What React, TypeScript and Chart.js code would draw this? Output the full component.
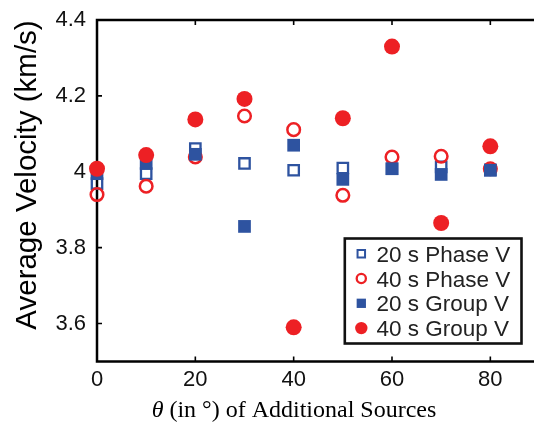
import { useEffect, useRef } from 'react';
import { Chart, registerables } from 'chart.js';

Chart.register(...registerables);

// ---- data ----
const angles = [0, 10, 20, 30, 40, 50, 60, 70, 80];
const phase20 = [3.969, 3.995, 4.061, 4.022, 4.004, 4.01, 4.008, 4.013, 4.005];
const phase40 = [3.94, 3.962, 4.039, 4.147, 4.111, 3.938, 4.039, 4.041, 4.008];
const group20 = [3.995, 4.022, 4.046, 3.856, 4.07, 3.98, 4.008, 3.993, 4.004];
const group40 = [4.008, 4.044, 4.138, 4.192, 3.59, 4.141, 4.33, 3.865, 4.067];
const seriesLabels = ['20 s Phase V', '40 s Phase V', '20 s Group V', '40 s Group V'];
const xTickValues = [0, 20, 40, 60, 80];
const yTickValues = [3.6, 3.8, 4, 4.2, 4.4];
const yTitle = 'Average Velocity (km/s)';
const xTitleSymbol = 'θ';
const xTitleRest = ' (in °) of Additional Sources';

// ---- styles ----
const BLUE = '#2E53A0';
const RED = '#ED2024';
const SANS = '"Liberation Sans", Arial, Helvetica, sans-serif';
const SERIF = '"Liberation Serif", "Times New Roman", serif';

const legendMarkers = [
  { shape: 'square', filled: false, color: BLUE, size: 7.5 },
  { shape: 'circle', filled: false, color: RED, size: 4.6 },
  { shape: 'square', filled: true, color: BLUE, size: 9.3 },
  { shape: 'circle', filled: true, color: RED, size: 6.2 },
];

const decor = {
  id: 'decor',
  beforeDatasetsDraw(chart: any) {
    const { ctx, chartArea: ca, scales } = chart;
    const x = scales.x;
    const y = scales.y;
    ctx.save();
    ctx.strokeStyle = '#000';
    ctx.lineWidth = 2.5;
    ctx.strokeRect(ca.left, ca.top, ca.right - ca.left, ca.bottom - ca.top);
    ctx.lineWidth = 1.6;
    ctx.beginPath();
    xTickValues.forEach((v) => {
      const px = x.getPixelForValue(v);
      ctx.moveTo(px, ca.bottom);
      ctx.lineTo(px, ca.bottom - 5);
      ctx.moveTo(px, ca.top);
      ctx.lineTo(px, ca.top + 5);
    });
    yTickValues.forEach((v) => {
      const py = y.getPixelForValue(v);
      ctx.moveTo(ca.left, py);
      ctx.lineTo(ca.left + 5, py);
      ctx.moveTo(ca.right, py);
      ctx.lineTo(ca.right - 5, py);
    });
    ctx.stroke();
    ctx.restore();
  },
  afterDraw(chart: any) {
    const { ctx, chartArea: ca } = chart;
    ctx.save();
    // y title
    ctx.fillStyle = '#000';
    ctx.translate(28, 175);
    ctx.rotate(-Math.PI / 2);
    ctx.font = `29.5px ${SANS}`;
    ctx.textAlign = 'center';
    ctx.textBaseline = 'middle';
    ctx.fillText(yTitle, 0, 0);
    ctx.restore();

    // x title
    ctx.save();
    ctx.fillStyle = '#000';
    ctx.textBaseline = 'alphabetic';
    ctx.textAlign = 'left';
    ctx.font = `italic 24px ${SERIF}`;
    const w1 = ctx.measureText(xTitleSymbol).width;
    ctx.font = `24px ${SERIF}`;
    const w2 = ctx.measureText(xTitleRest).width;
    const start = 294 - (w1 + w2) / 2;
    ctx.font = `italic 24px ${SERIF}`;
    ctx.fillText(xTitleSymbol, start, 417);
    ctx.font = `24px ${SERIF}`;
    ctx.fillText(xTitleRest, start + w1, 417);
    ctx.restore();

    // legend
    ctx.save();
    const right = ca.right - 18;
    const bottom = ca.bottom - 18;
    const bw = 176.7;
    const bh = 105;
    const left = right - bw;
    const top = bottom - bh;
    ctx.fillStyle = '#fff';
    ctx.fillRect(left, top, bw, bh);
    ctx.strokeStyle = '#111';
    ctx.lineWidth = 2.6;
    ctx.strokeRect(left, top, bw, bh);
    ctx.font = `22.5px ${SANS}`;
    ctx.textBaseline = 'alphabetic';
    ctx.textAlign = 'left';
    chart.data.datasets.forEach((ds: any, i: number) => {
      const base = top + 23.2 + 24.8 * i;
      const cy = base - 8;
      const cx = left + 16.5;
      const m = legendMarkers[i];
      ctx.beginPath();
      if (m.shape === 'square') {
        ctx.rect(cx - m.size / 2, cy - m.size / 2, m.size, m.size);
      } else {
        ctx.arc(cx, cy, m.size, 0, Math.PI * 2);
      }
      if (m.filled) {
        ctx.fillStyle = m.color;
        ctx.fill();
      } else {
        ctx.strokeStyle = m.color;
        ctx.lineWidth = m.shape === 'square' ? 2 : 2.3;
        ctx.stroke();
      }
      ctx.fillStyle = '#222';
      ctx.fillText(ds.label, left + 31.7, base);
    });
    ctx.restore();
  },
};

export default function App() {
  const ref = useRef<HTMLCanvasElement | null>(null);
  useEffect(() => {
    if (!ref.current) return;
    const mk = (vals: number[]) => angles.map((a, i) => ({ x: a, y: vals[i] }));
    const chart = new Chart(ref.current, {
      type: 'scatter',
      data: {
        datasets: [
          {
            label: seriesLabels[0],
            data: mk(phase20),
            pointStyle: 'rect',
            pointRadius: 7.35,
            pointBorderWidth: 2.3,
            borderColor: BLUE,
            pointBorderColor: BLUE,
            backgroundColor: 'rgba(0,0,0,0)',
            pointBackgroundColor: 'rgba(0,0,0,0)',
            order: 4,
            clip: false,
          },
          {
            label: seriesLabels[1],
            data: mk(phase40),
            pointStyle: 'circle',
            pointRadius: 6.3,
            pointBorderWidth: 2.5,
            borderColor: RED,
            pointBorderColor: RED,
            backgroundColor: 'rgba(0,0,0,0)',
            pointBackgroundColor: 'rgba(0,0,0,0)',
            order: 3,
            clip: false,
          },
          {
            label: seriesLabels[2],
            data: mk(group20),
            pointStyle: 'rect',
            pointRadius: 9,
            pointBorderWidth: 0,
            borderColor: BLUE,
            backgroundColor: BLUE,
            pointBackgroundColor: BLUE,
            order: 2,
            clip: false,
          },
          {
            label: seriesLabels[3],
            data: mk(group40),
            pointStyle: 'circle',
            pointRadius: 8,
            pointBorderWidth: 0,
            borderColor: RED,
            backgroundColor: RED,
            pointBackgroundColor: RED,
            order: 1,
            clip: false,
          },
        ],
      } as any,
      options: {
        responsive: false,
        animation: false,
        events: [],
        layout: { autoPadding: false, padding: { left: 0, top: 20, right: 5.5, bottom: 0 } },
        plugins: { legend: { display: false }, tooltip: { enabled: false } },
        scales: {
          x: {
            type: 'linear',
            min: 0,
            max: 90,
            afterBuildTicks: (s: any) => {
              s.ticks = xTickValues.map((v) => ({ value: v }));
            },
            afterFit: (s: any) => {
              s.height = 61.5;
              s.paddingLeft = 0;
              s.paddingRight = 0;
            },
            grid: { display: false, drawTicks: false },
            border: { display: false },
            ticks: { color: '#111', font: { family: SANS, size: 22 }, padding: 5, maxRotation: 0, autoSkip: false },
          },
          y: {
            type: 'linear',
            min: 3.5,
            max: 4.4,
            afterBuildTicks: (s: any) => {
              s.ticks = yTickValues.map((v) => ({ value: v }));
            },
            afterFit: (s: any) => {
              s.width = 97;
              s.paddingTop = 0;
              s.paddingBottom = 0;
            },
            grid: { display: false, drawTicks: false },
            border: { display: false },
            ticks: {
              color: '#111',
              font: { family: SANS, size: 22 },
              padding: 11,
              autoSkip: false,
              callback: (v: any) => String(v),
            },
          },
        },
      } as any,
      plugins: [decor],
    });
    return () => chart.destroy();
  }, []);
  return (
    <div style={{ position: 'fixed', left: 0, top: 0, width: 534, height: 423, overflow: 'hidden', background: '#fff' }}>
      <canvas ref={ref} width={545} height={423} style={{ display: 'block', width: 545, height: 423 }} />
    </div>
  );
}
